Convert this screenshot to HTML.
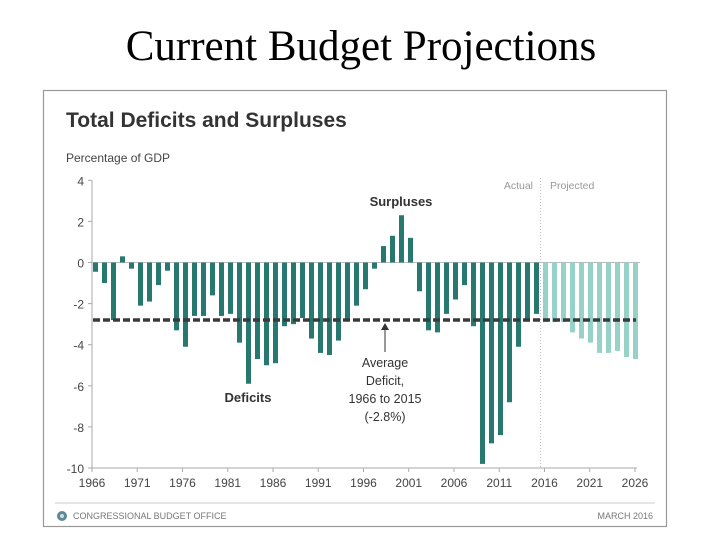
<!DOCTYPE html>
<html><head><meta charset="utf-8"><style>
body{margin:0;width:720px;height:540px;background:#fff;overflow:hidden}
svg{display:block}
</style></head><body>
<svg width="720" height="540" xmlns="http://www.w3.org/2000/svg">
<text x="361" y="60" text-anchor="middle" font-family="Liberation Serif, serif" font-size="43" fill="#000">Current Budget Projections</text>
<rect x="43.5" y="90.5" width="623" height="436" fill="#fff" stroke="#999" stroke-width="1.2"/>
<text x="66" y="127" font-family="Liberation Sans, sans-serif" font-size="21" font-weight="bold" fill="#333">Total Deficits and Surpluses</text>
<text x="66" y="162" font-family="Liberation Sans, sans-serif" font-size="12" fill="#444">Percentage of GDP</text>
<g id="axes"></g>
<g id="bars"></g>
<g id="overlay"></g>
<line x1="55" y1="503" x2="655" y2="503" stroke="#ccc"/>
<circle cx="62" cy="516" r="5" fill="#5d8a96"/>
<circle cx="62" cy="516" r="2" fill="#cfe0e4"/>
<text x="73" y="519" font-family="Liberation Sans, sans-serif" font-size="9" fill="#777">CONGRESSIONAL BUDGET OFFICE</text>
<text x="653" y="519" text-anchor="end" font-family="Liberation Sans, sans-serif" font-size="9" fill="#777">MARCH 2016</text>
</svg>
<script>
const actualYears=[1966,1967,1968,1969,1970,1971,1972,1973,1974,1975,1976,1977,1978,1979,1980,1981,1982,1983,1984,1985,1986,1987,1988,1989,1990,1991,1992,1993,1994,1995,1996,1997,1998,1999,2000,2001,2002,2003,2004,2005,2006,2007,2008,2009,2010,2011,2012,2013,2014,2015];
const actualValues=[-0.45,-1.0,-2.8,0.3,-0.3,-2.1,-1.9,-1.1,-0.4,-3.3,-4.1,-2.6,-2.6,-1.6,-2.6,-2.5,-3.9,-5.9,-4.7,-5.0,-4.9,-3.1,-3.0,-2.7,-3.7,-4.4,-4.5,-3.8,-2.8,-2.1,-1.3,-0.3,0.8,1.3,2.3,1.2,-1.4,-3.3,-3.4,-2.5,-1.8,-1.1,-3.1,-9.8,-8.8,-8.4,-6.8,-4.1,-2.8,-2.5];
const projYears=[2016,2017,2018,2019,2020,2021,2022,2023,2024,2025,2026];
const projValues=[-2.9,-2.9,-2.9,-3.4,-3.7,-3.9,-4.4,-4.4,-4.3,-4.6,-4.7];
const yTicks=[4,2,0,-2,-4,-6,-8,-10];
const xTicks=[1966,1971,1976,1981,1986,1991,1996,2001,2006,2011,2016,2021,2026];
const avgDeficit=-2.8;
const NS='http://www.w3.org/2000/svg';
const y=v=>262.5-v*20.55;
const xTick=yr=>92+(yr-1966)*9.05;
const xBar=yr=>95.5+(yr-1966)*9.0;
function mk(tag,attrs,parent,text){const e=document.createElementNS(NS,tag);for(const k in attrs)e.setAttribute(k,attrs[k]);if(text!=null)e.textContent=text;parent.appendChild(e);return e;}
const axes=document.getElementById('axes'),bars=document.getElementById('bars'),ov=document.getElementById('overlay');
mk('line',{x1:92,y1:y(4),x2:92,y2:y(-10),stroke:'#aaa'},axes);
mk('line',{x1:92,y1:y(-10),x2:637,y2:y(-10),stroke:'#aaa'},axes);
yTicks.forEach(t=>{
 mk('line',{x1:88,y1:y(t),x2:92,y2:y(t),stroke:'#aaa'},axes);
 const tx=mk('text',{x:84,y:y(t)+5,'text-anchor':'end','font-family':'Liberation Sans, sans-serif','font-size':12,fill:'#444'},axes,String(t));
 
 
});
xTicks.forEach(t=>{
 mk('line',{x1:xTick(t),y1:y(-10),x2:xTick(t),y2:y(-10)+4,stroke:'#aaa'},axes);
 const tx=mk('text',{x:xTick(t),y:487,'text-anchor':'middle','font-family':'Liberation Sans, sans-serif','font-size':12,fill:'#444'},axes,String(t));
 
 
});
mk('line',{x1:92,y1:y(0),x2:640,y2:y(0),stroke:'#bbb'},axes);
function bar(yr,v,col){
 const r=mk('rect',{x:xBar(yr)-2.5,y:Math.min(y(0),y(v)),width:5,height:Math.abs(y(v)-y(0)),fill:col},bars);
 
 
}
actualYears.forEach((yr,i)=>bar(yr,actualValues[i],'#27796f'));
projYears.forEach((yr,i)=>bar(yr,projValues[i],'#97d2c9'));
const dl=mk('line',{x1:93,y1:y(avgDeficit),x2:636,y2:y(avgDeficit),stroke:'#3a3a3a','stroke-width':3.5,'stroke-dasharray':'7,3'},ov);


const sep=mk('line',{x1:540.5,y1:178,x2:540.5,y2:y(-10),stroke:'#bbb','stroke-dasharray':'1,2'},ov);


const F='Liberation Sans, sans-serif';
mk('text',{x:533,y:189,'text-anchor':'end','font-family':F,'font-size':10.5,fill:'#999'},ov,'Actual');
mk('text',{x:550,y:189,'font-family':F,'font-size':10.5,fill:'#999'},ov,'Projected');
mk('text',{x:401,y:206,'text-anchor':'middle','font-family':F,'font-size':13,'font-weight':'bold',fill:'#333'},ov,'Surpluses');
mk('text',{x:248,y:402,'text-anchor':'middle','font-family':F,'font-size':13,'font-weight':'bold',fill:'#333'},ov,'Deficits');
mk('line',{x1:385,y1:y(avgDeficit)+5,x2:385,y2:352,stroke:'#333','stroke-width':1},ov);
mk('path',{d:`M381,${y(avgDeficit)+10} L385,${y(avgDeficit)+3} L389,${y(avgDeficit)+10} Z`,fill:'#333'},ov);
['Average','Deficit,','1966 to 2015','(-2.8%)'].forEach((s,i)=>mk('text',{x:385,y:367+i*18,'text-anchor':'middle','font-family':F,'font-size':12.5,fill:'#333'},ov,s));
</script>
</body></html>
